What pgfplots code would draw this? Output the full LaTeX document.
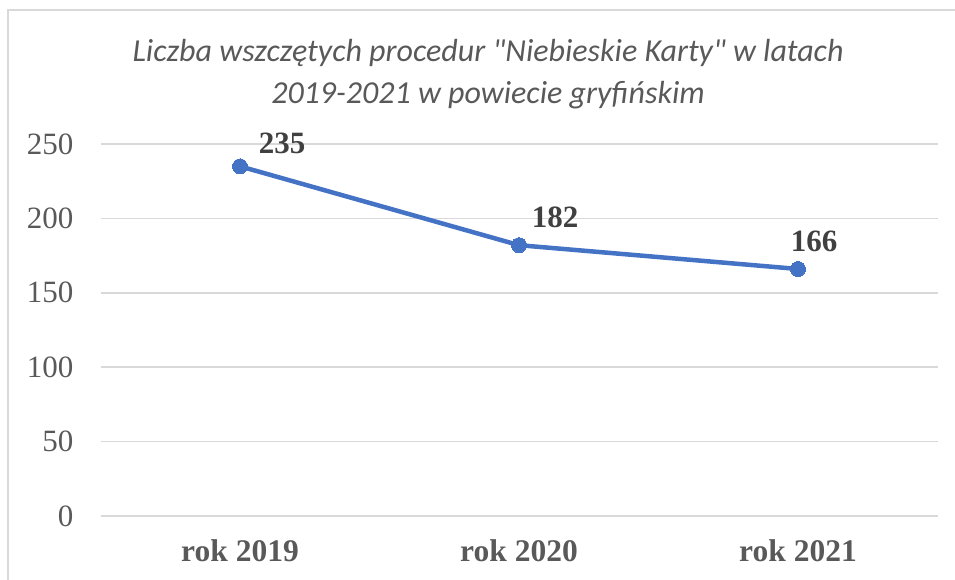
\documentclass[border=0pt]{standalone}
\usepackage{pgfplots}
\pgfplotsset{compat=1.18}
\usepackage{fontspec}
\setmainfont{Liberation Serif}
\newfontfamily\carlito{Carlito}
\definecolor{linec}{HTML}{4472C4}
\definecolor{txtc}{HTML}{595959}
\definecolor{lblc}{HTML}{404040}
\definecolor{gridc}{HTML}{D9D9D9}
\begin{document}
\begin{tikzpicture}[x=1pt,y=1pt]
\useasboundingbox (0,0) rectangle (955,580);
\draw[gridc, line width=1.5pt] (8,0) -- (8,570) -- (955,570);
\node[anchor=base, inner sep=0pt, text=txtc, font=\carlito\itshape\fontsize{32}{38}\selectfont] at (488,518) {Liczba wszczętych procedur "Niebieskie Karty" w latach};
\node[anchor=base, inner sep=0pt, text=txtc, font=\carlito\itshape\fontsize{32}{38}\selectfont] at (488,476) {2019-2021 w powiecie gryfińskim};
\begin{axis}[
  at={(100.5pt,64pt)}, anchor=south west,
  scale only axis, width=837pt, height=372pt,
  xmin=-0.5, xmax=2.5, ymin=0, ymax=250,
  xtick={0,1,2}, xticklabels={rok 2019,rok 2020,rok 2021},
  ytick={0,50,100,150,200,250},
  axis line style={draw=none},
  major tick length=0pt,
  ymajorgrids, grid style={gridc, line width=1.5pt},
  /pgf/number format/assume math mode=true,
  yticklabel style={anchor=east, inner sep=0pt, xshift=-27pt, text=txtc, font=\fontsize{31}{36}\selectfont},
  xticklabel style={anchor=base, inner sep=0pt, yshift=-46pt, text=txtc, font=\bfseries\fontsize{31.5}{36}\selectfont},
  clip=false,
]
\addplot[linec, line width=4.5pt, mark=*, mark size=7.5pt, mark options={fill=linec, draw=linec, line width=0pt}] coordinates {(0,235) (1,182) (2,166)};
\addplot[draw=none, nodes near coords, point meta=explicit symbolic,
  every node near coord/.append style={anchor=center, xshift=42pt, yshift=23pt, text=lblc, font=\bfseries\fontsize{31}{36}\selectfont}] coordinates {(0,235) [235]};
\addplot[draw=none, nodes near coords, point meta=explicit symbolic,
  every node near coord/.append style={anchor=center, xshift=36pt, yshift=28pt, text=lblc, font=\bfseries\fontsize{31}{36}\selectfont}] coordinates {(1,182) [182]};
\addplot[draw=none, nodes near coords, point meta=explicit symbolic,
  every node near coord/.append style={anchor=center, xshift=16pt, yshift=28pt, text=lblc, font=\bfseries\fontsize{31}{36}\selectfont}] coordinates {(2,166) [166]};
\end{axis}
\end{tikzpicture}
\end{document}
